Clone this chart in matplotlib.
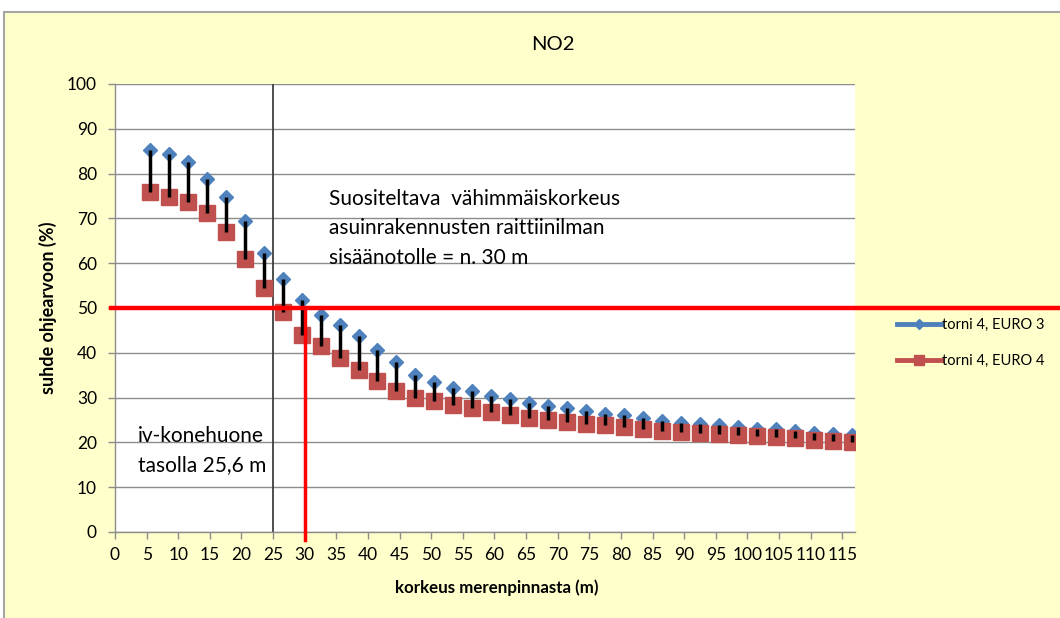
import matplotlib.pyplot as plt
from matplotlib.lines import Line2D
from matplotlib.patches import Rectangle

plt.rcParams['font.family'] = ['Lato', 'DejaVu Sans']

# heights above sea level (m)
heights = [5.5, 8.5, 11.5, 14.5, 17.5, 20.5, 23.5, 26.5, 29.5, 32.5,
           35.5, 38.5, 41.5, 44.5, 47.5, 50.5, 53.5, 56.5, 59.5, 62.5,
           65.5, 68.5, 71.5, 74.5, 77.5, 80.5, 83.5, 86.5, 89.5, 92.5,
           95.5, 98.5, 101.5, 104.5, 107.5, 110.5, 113.5, 116.5]

# NO2 as share of the guideline value (%)
euro3 = [85.3, 84.3, 82.7, 78.7, 74.8, 69.4, 62.2, 56.5, 51.8, 48.4,
         46.1, 43.7, 40.7, 37.9, 35.0, 33.4, 32.2, 31.4, 30.4, 29.6,
         28.8, 28.1, 27.6, 27.0, 26.4, 26.1, 25.4, 24.8, 24.4, 24.1,
         23.9, 23.5, 23.1, 22.9, 22.6, 22.2, 21.9, 21.6]
euro4 = [75.8, 74.8, 73.6, 71.3, 66.9, 60.9, 54.5, 49.1, 43.9, 41.5,
         38.9, 36.1, 33.7, 31.4, 30.0, 29.2, 28.3, 27.6, 26.8, 26.1,
         25.5, 24.9, 24.6, 24.2, 23.8, 23.5, 22.9, 22.5, 22.3, 22.0,
         21.8, 21.6, 21.4, 21.2, 20.9, 20.6, 20.4, 20.2]

series_names = ['torni 4, EURO 3', 'torni 4, EURO 4']
x_ticks = list(range(0, 120, 5))
y_ticks = list(range(0, 110, 10))

limit_value = 50       # half of the guideline value
machine_room = 25      # iv-konehuone
min_intake = 30        # recommended minimum intake height

blue = '#4F81BD'
red = '#C0504D'
grid_col = '#8C8C8C'

fig = plt.figure(figsize=(10.6, 6.18), dpi=100, facecolor='white')

# chart area background with border
fig.patches.append(Rectangle((4 / 1060, -0.01), 1.0, 1 - 12 / 618 + 0.01,
                             transform=fig.transFigure, facecolor='#FFFFCC',
                             edgecolor='#A6A6A6', linewidth=1.5, zorder=-5))

ax = fig.add_axes([115 / 1060, 86 / 618, 740 / 1060, 448 / 618])
ax.set_facecolor('white')
ax.set_xlim(0, 117)
ax.set_ylim(0, 100)

ax.set_yticks(y_ticks)
ax.set_xticks(x_ticks)
ax.set_xticklabels([str(t) for t in x_ticks])
ax.grid(axis='y', color=grid_col, linewidth=1.0)
ax.set_axisbelow(True)
for side in ['top', 'right']:
    ax.spines[side].set_visible(False)
for side in ['left', 'bottom']:
    ax.spines[side].set_color(grid_col)
    ax.spines[side].set_linewidth(1.0)
ax.tick_params(axis='both', colors=grid_col, length=5, width=1.0,
               labelcolor='black', labelsize=12.5)
ax.tick_params(axis='y', pad=8)
ax.tick_params(axis='x', pad=6)

# markers
ax.plot(heights, euro3, linestyle='none', marker='D', markersize=7.5,
        color=blue, zorder=3)
ax.plot(heights, euro4, linestyle='none', marker='s', markersize=11,
        color=red, zorder=4)

# high-low lines between the two series
ax.vlines(heights, euro4, euro3, color='black', linewidth=2.5, zorder=5)

# reference lines
ax.axvline(machine_room, color='#404040', linewidth=1.3, zorder=2)
ax.axhline(limit_value, xmin=-0.005, xmax=1.274, color='#FF0000',
           linewidth=3.2, clip_on=False, zorder=6)
ax.axvline(min_intake, ymin=-0.018, ymax=0.5, color='#FF0000',
           linewidth=2.5, clip_on=False, zorder=6)

ax.text(33.9, 67.8, 'Suositeltava  vähimmäiskorkeus\nasuinrakennusten raittiinilman\n'
        'sisäänotolle = n. 30 m', fontsize=15, va='center', ha='left',
        linespacing=1.6)
ax.text(3.6, 18.2, 'iv-konehuone\ntasolla 25,6 m', fontsize=15,
        va='center', ha='left', linespacing=1.6)

ax.set_xlabel('korkeus merenpinnasta (m)', fontsize=12.2, fontweight='bold')
ax.xaxis.set_label_coords(0.516, -0.105)
ax.set_ylabel('suhde ohjearvoon (%)', fontsize=13, fontweight='bold',
              labelpad=7)

fig.text(553 / 1060, 1 - 45 / 618, 'NO2', fontsize=14.5, ha='center',
         va='center')

handles = [Line2D([], [], color=blue, linewidth=3.5, marker='D', markersize=5),
           Line2D([], [], color=red, linewidth=3.5, marker='s', markersize=7)]
fig.legend(handles, series_names, loc='center left',
           bbox_to_anchor=(884 / 1060, 1 - 343 / 618), frameon=False,
           fontsize=10.5, handlelength=3.0, handletextpad=0.1,
           labelspacing=1.55)

fig.savefig('out.png', dpi=100, facecolor=fig.get_facecolor())
